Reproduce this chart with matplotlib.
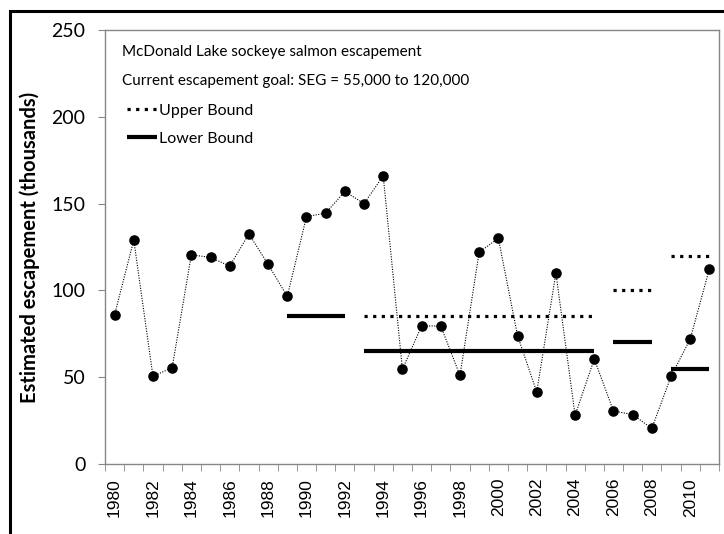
import matplotlib
matplotlib.use("Agg")
import matplotlib.pyplot as plt
from matplotlib.patches import Rectangle
from matplotlib.ticker import FixedLocator, NullFormatter

# escapement, thousands of fish
years = list(range(1980, 2012))
escapement = [86, 129, 50.5, 55.5, 120.5, 119, 114, 132.5, 115, 96.5,
              142.5, 144.5, 157, 150, 166, 54.5, 79.5, 79.5, 51, 122,
              130, 74, 41.5, 110, 28, 60.5, 30.5, 28.5, 20.5, 50.5,
              72, 112.5]

# escapement goal periods (first year, last year) and bounds
goal_start = [1989, 1993, 2006, 2009]
goal_end = [1992, 2005, 2008, 2011]
lower_bound = [85, 65, 70, 55]
upper_bound = [None, 85, 100, 120]

title_lines = ["McDonald Lake sockeye salmon escapement",
               "Current escapement goal: SEG = 55,000 to 120,000"]

FONT = "Lato"
GRID = "#868686"

fig = plt.figure(figsize=(7.24, 5.34), dpi=100)
ax = fig.add_axes([105/724, 70/534, 614/724, 434/534])

x = [y - years[0] for y in years]
ax.plot(x, escapement, color="k", ls=(0, (1, 1.3)), lw=0.8,
        marker="o", ms=6.6, mec="k", mfc="k", zorder=3)

up_handle = lo_handle = None
for s, e, lo, up in zip(goal_start, goal_end, lower_bound, upper_bound):
    xs = [s - years[0], e - years[0]]
    lo_handle, = ax.plot(xs, [lo, lo], color="k", lw=3, solid_capstyle="butt",
                         label="Lower Bound", zorder=2)
    if up is not None:
        up_handle, = ax.plot(xs, [up, up], color="k", lw=2.3,
                             ls=(0, (1, 1.7)), label="Upper Bound", zorder=2)

ax.set_xlim(-0.5, len(years) - 0.5)
ax.set_ylim(0, 250)
ax.set_yticks([0, 50, 100, 150, 200, 250])
ax.set_yticklabels(["0", "50", "100", "150", "200", "250"],
                   fontfamily=FONT, fontsize=14)

ax.xaxis.set_major_locator(FixedLocator(x[::2]))
ax.set_xticklabels([str(y) for y in years[::2]], rotation=90,
                   fontfamily="Liberation Sans", fontsize=12.5)
ax.xaxis.set_minor_locator(FixedLocator([i - 0.5 for i in range(len(years) + 1)]))
ax.xaxis.set_minor_formatter(NullFormatter())
ax.tick_params(axis="x", which="major", length=0, pad=10)
ax.tick_params(axis="x", which="minor", length=5, color=GRID, direction="out")
ax.tick_params(axis="y", length=5, color=GRID, direction="out", pad=9)

for sp in ax.spines.values():
    sp.set_color(GRID)
    sp.set_linewidth(1.0)

ax.set_ylabel("Estimated escapement (thousands)", fontfamily=FONT,
              fontweight="bold", fontsize=14.5)
ax.yaxis.set_label_coords(-0.106, 0.5)

ax.text(0.028, 0.940, title_lines[0], transform=ax.transAxes, va="baseline",
        fontfamily=FONT, fontsize=11)
ax.text(0.028, 0.873, title_lines[1], transform=ax.transAxes, va="baseline",
        fontfamily=FONT, fontsize=11)

leg = ax.legend([up_handle, lo_handle], ["Upper Bound", "Lower Bound"],
                loc="upper left", bbox_to_anchor=(0.036, 0.831),
                frameon=False, borderaxespad=0, borderpad=0,
                handlelength=1.9, handletextpad=0.1, labelspacing=0.9,
                prop={"family": FONT, "size": 11.5})

# outer chart border (black frame around the chart area)
fig.patches.append(Rectangle((9.5/724, -0.1), 1.2, 1.1 - 11/534,
                             transform=fig.transFigure, fill=False,
                             ec="k", lw=2.2, zorder=0))

fig.savefig("out.png", dpi=100)
